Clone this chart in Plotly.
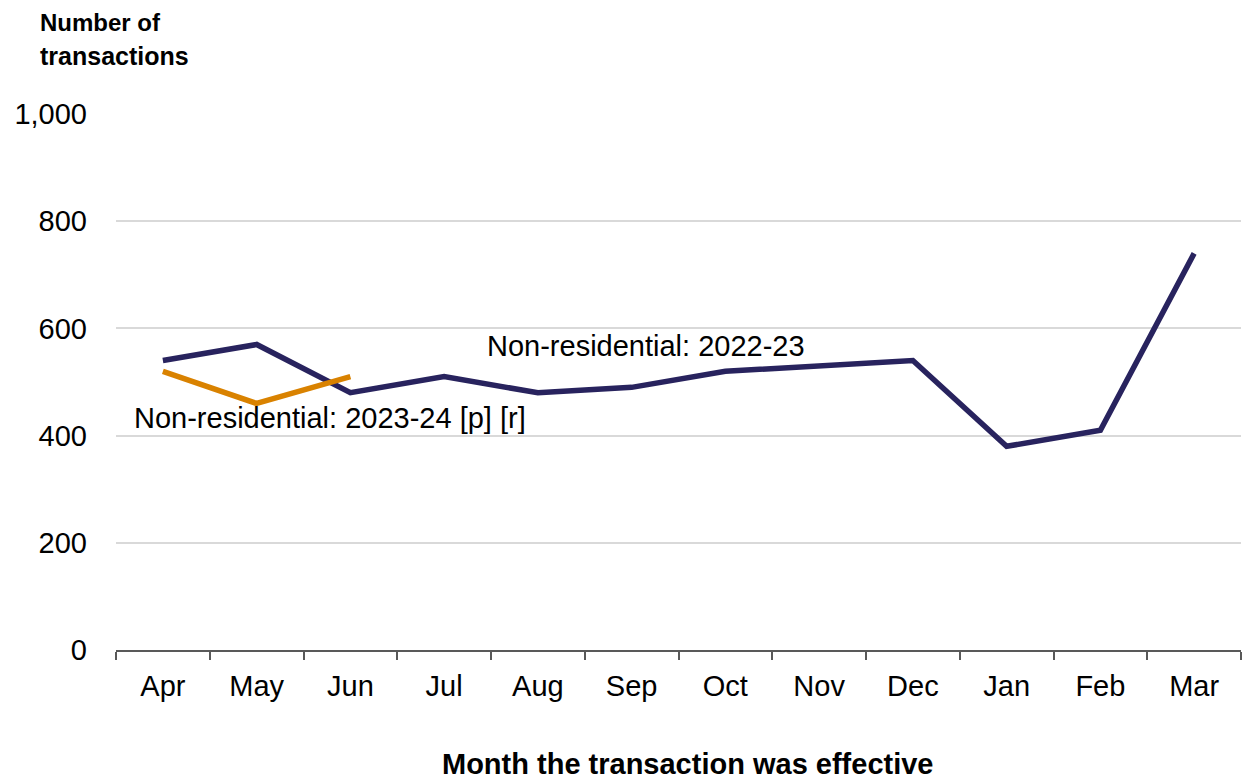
import plotly.graph_objects as go

months = ["Apr", "May", "Jun", "Jul", "Aug", "Sep", "Oct", "Nov", "Dec", "Jan", "Feb", "Mar"]
nonres_2022_23 = [540, 570, 480, 510, 480, 490, 520, 530, 540, 380, 410, 740]
nonres_2023_24 = [520, 460, 510]
y_ticks = [0, 200, 400, 600, 800, 1000]
y_tick_text = ["0", "200", "400", "600", "800", "1,000"]

font_family = "Liberation Sans, Arial, sans-serif"
dark = "#28235E"
orange = "#D98200"

# plot area geometry in pixels
PL, PR, PT, PB = 116, 1241, 114, 650
PW, PH = PR - PL, PB - PT

fig = go.Figure()
fig.add_trace(go.Scatter(
    x=months, y=nonres_2022_23, mode="lines",
    line=dict(color=dark, width=5.5), name="Non-residential: 2022-23",
    showlegend=False,
))
fig.add_trace(go.Scatter(
    x=months[:len(nonres_2023_24)], y=nonres_2023_24, mode="lines",
    line=dict(color=orange, width=5.5), name="Non-residential: 2023-24 [p] [r]",
    showlegend=False,
))

def px_x(p):
    return (p - PL) / PW

def px_y(p):
    return (PB - p) / PH

fig.update_layout(
    width=1242, height=782,
    margin=dict(l=PL, r=1242 - PR, t=PT, b=782 - PB),
    paper_bgcolor="white", plot_bgcolor="white",
    font=dict(family=font_family, size=29, color="#000000"),
    xaxis=dict(
        categoryorder="array", categoryarray=months,
        tickson="boundaries", ticks="outside", ticklen=8, tickwidth=2,
        tickcolor="#595959", showline=True, linecolor="#595959", linewidth=2,
        showgrid=False, ticklabelstandoff=9,
        range=[-0.5, 11.5],
    ),
    yaxis=dict(
        range=[0, 1000], tickvals=y_ticks, ticktext=y_tick_text,
        showgrid=True, gridcolor="#D9D9D9", gridwidth=2,
        zeroline=False, showline=False, ticks="", ticklabelstandoff=28,
    ),
    annotations=[
        dict(text="<b>Number of</b>", xref="paper", yref="paper",
             x=px_x(38), y=px_y(22), xanchor="left", yanchor="middle",
             showarrow=False, align="left", font=dict(size=24)),
        dict(text="<b>transactions</b>", xref="paper", yref="paper",
             x=px_x(38), y=px_y(56), xanchor="left", yanchor="middle",
             showarrow=False, align="left", font=dict(size=25)),
        dict(text="<b>Month the transaction was effective</b>", xref="paper", yref="paper",
             x=px_x(688), y=px_y(764), xanchor="center", yanchor="middle",
             showarrow=False, font=dict(size=29)),
        dict(text="Non-residential: 2022-23", xref="paper", yref="paper",
             x=px_x(485), y=px_y(346), xanchor="left", yanchor="middle",
             showarrow=False, font=dict(size=29)),
        dict(text="Non-residential: 2023-24 [p] [r]", xref="paper", yref="paper",
             x=px_x(132), y=px_y(418), xanchor="left", yanchor="middle",
             showarrow=False, font=dict(size=29)),
    ],
)

fig.write_html("out.html")
